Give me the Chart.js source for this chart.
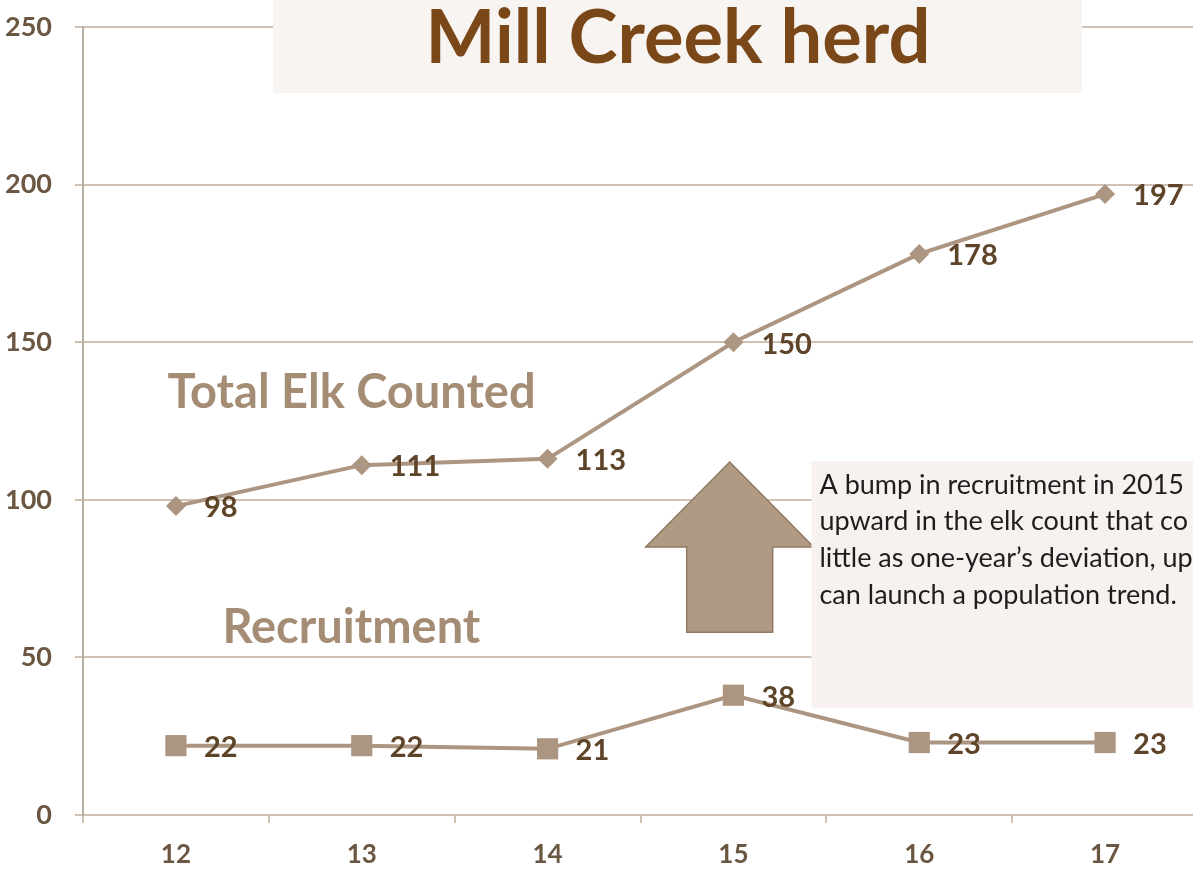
<!DOCTYPE html>
<html>
<head>
<meta charset="utf-8">
<title>Mill Creek herd</title>
<script src="https://cdn.jsdelivr.net/npm/chart.js@4.4.1/dist/chart.umd.min.js"></script>
<style>
  html, body { margin: 0; padding: 0; background: #fff; overflow: hidden; }
  #wrap { width: 1200px; height: 872px; }
</style>
</head>
<body>
<div id="wrap"><canvas id="elk" width="1200" height="872"></canvas></div>
<script>
// survey years (two-digit) and counts
const years       = ['12', '13', '14', '15', '16', '17'];
const totalElk    = [98, 111, 113, 150, 178, 197];
const recruitment = [22, 22, 21, 38, 23, 23];
const yTicks      = [0, 50, 100, 150, 200, 250];

const noteLines = [
  'A bump in recruitment in 2015',
  'upward in the elk count that co',
  'little as one-year\u2019s deviation, up',
  'can launch a population trend.'
];

const TAN    = '#ad9681';
const BROWN  = '#5e4428';
const GRIDC  = '#cfc2b5';
const FONT   = 'Lato, "Open Sans", sans-serif';

// value labels to the right of each point
const pointLabels = {
  id: 'pointLabels',
  afterDatasetsDraw(chart) {
    const ctx = chart.ctx;
    ctx.save();
    ctx.font = 'bold 29px ' + FONT;
    ctx.fillStyle = BROWN;
    ctx.textAlign = 'left';
    ctx.textBaseline = 'middle';
    chart.data.datasets.forEach((ds, i) => {
      chart.getDatasetMeta(i).data.forEach((pt, j) => {
        ctx.fillText(String(ds.data[j]), pt.x + 28, pt.y + 2);
      });
    });
    ctx.restore();
  }
};

// title panel, series names, arrow and note box
const decorations = {
  id: 'decorations',
  beforeDatasetsDraw(chart) {
    const ctx = chart.ctx;
    const xs = chart.scales.x, ys = chart.scales.y;
    const W = chart.width;
    ctx.save();

    // title panel
    ctx.fillStyle = '#f8f4f1';
    ctx.fillRect(273, 0, 809, 93);
    ctx.fillStyle = '#7a4718';
    ctx.font = 'bold 74px ' + FONT;
    ctx.textAlign = 'center';
    ctx.textBaseline = 'alphabetic';
    ctx.fillText('Mill Creek herd', 678, 63);

    // series names
    ctx.fillStyle = '#a58d75';
    ctx.font = 'bold 47px ' + FONT;
    ctx.textAlign = 'left';
    ctx.textBaseline = 'middle';
    ctx.fillText('Total Elk Counted', xs.getPixelForValue(-0.045), ys.getPixelForValue(134));
    ctx.fillText('Recruitment', xs.getPixelForValue(0.25), ys.getPixelForValue(59.5));

    // up arrow over 2015
    const cx = xs.getPixelForValue(2.98);
    const tip = ys.getPixelForValue(112), wing = ys.getPixelForValue(85), foot = ys.getPixelForValue(58);
    const wingW = 84, shaftW = 43;
    ctx.beginPath();
    ctx.moveTo(cx, tip);
    ctx.lineTo(cx + wingW, wing);
    ctx.lineTo(cx + shaftW, wing);
    ctx.lineTo(cx + shaftW, foot);
    ctx.lineTo(cx - shaftW, foot);
    ctx.lineTo(cx - shaftW, wing);
    ctx.lineTo(cx - wingW, wing);
    ctx.closePath();
    ctx.fillStyle = '#b09a83';
    ctx.fill();
    ctx.strokeStyle = '#8f7a64';
    ctx.lineWidth = 1.5;
    ctx.stroke();

    // note box
    const bx = xs.getPixelForValue(3.42), by = ys.getPixelForValue(112.3), bb = ys.getPixelForValue(34);
    ctx.fillStyle = '#f7f2ef';
    ctx.fillRect(bx, by, W - bx, bb - by);
    ctx.fillStyle = '#1e1e1e';
    ctx.font = '27px ' + FONT;
    ctx.textBaseline = 'middle';
    noteLines.forEach((line, i) => ctx.fillText(line, bx + 8, by + 24 + i * 36.7));

    ctx.restore();
  }
};

new Chart(document.getElementById('elk'), {
  type: 'line',
  data: {
    labels: years,
    datasets: [
      {
        label: 'Total Elk Counted',
        data: totalElk,
        borderColor: TAN,
        backgroundColor: TAN,
        borderWidth: 4,
        pointStyle: 'rectRot',
        pointRadius: 10,
        pointBorderWidth: 0,
        tension: 0
      },
      {
        label: 'Recruitment',
        data: recruitment,
        borderColor: TAN,
        backgroundColor: TAN,
        borderWidth: 4,
        pointStyle: 'rect',
        pointRadius: 15,
        pointBorderWidth: 0,
        tension: 0
      }
    ]
  },
  options: {
    responsive: false,
    animation: false,
    layout: { autoPadding: false, padding: { top: 27, right: 2, left: 0, bottom: 0 } },
    plugins: { legend: { display: false }, tooltip: { enabled: false } },
    scales: {
      x: {
        offset: true,
        grid: { offset: true, drawOnChartArea: false, drawTicks: true, tickLength: 8, color: GRIDC, lineWidth: 2 },
        border: { display: true, color: GRIDC, width: 2 },
        ticks: { color: '#6a5641', font: { family: FONT, size: 26, weight: 'bold' }, padding: 16 },
        afterFit(s) { s.height = 57; s.paddingLeft = 0; s.paddingRight = 0; }
      },
      y: {
        min: 0,
        max: 250,
        afterBuildTicks(s) { s.ticks = yTicks.map(v => ({ value: v })); },
        grid: { color: GRIDC, lineWidth: 2, tickLength: 8 },
        border: { display: true, color: '#b9ada1', width: 2 },
        ticks: { color: '#6a5641', font: { family: FONT, size: 27, weight: 'bold' }, padding: 23 },
        afterFit(s) { s.width = 83; s.paddingTop = 0; s.paddingBottom = 0; }
      }
    }
  },
  plugins: [decorations, pointLabels]
});
</script>
</body>
</html>
